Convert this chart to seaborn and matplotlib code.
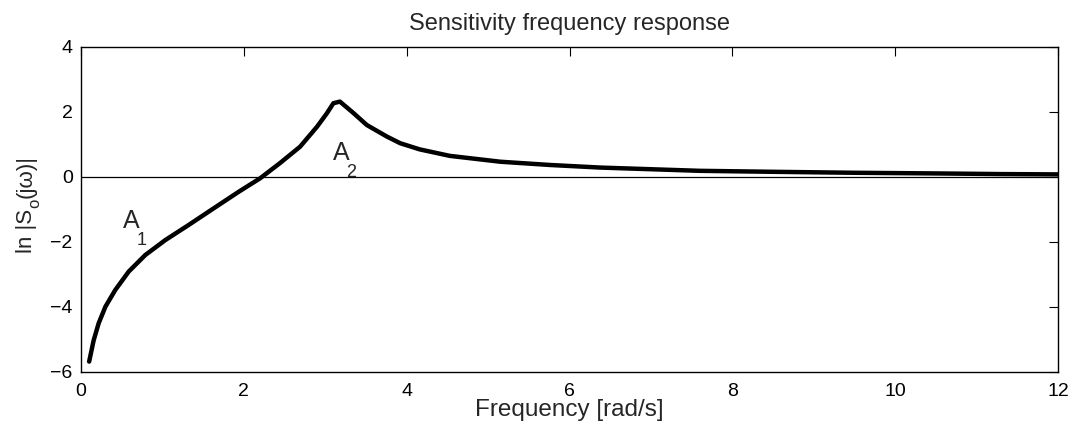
import numpy as np
import pandas as pd
import matplotlib
matplotlib.use("Agg")
import matplotlib.pyplot as plt
import seaborn as sns

# Data
freq = [0.10, 0.156, 0.217, 0.30, 0.42, 0.586, 0.79, 1.036, 1.32, 1.65, 1.94, 2.035, 2.2,
        2.44, 2.69, 2.90, 3.02, 3.10, 3.18, 3.35, 3.51, 3.76, 3.92, 4.16, 4.53, 5.15, 5.76,
        6.38, 6.99, 7.6, 8.5, 9.5, 10.5, 11.3, 12.0]
ln_so = [-5.68, -5.02, -4.50, -3.99, -3.48, -2.91, -2.40, -1.94, -1.48, -0.93, -0.45, -0.30, -0.04,
         0.42, 0.93, 1.55, 1.96, 2.27, 2.32, 1.96, 1.60, 1.24, 1.04, 0.85, 0.65, 0.47, 0.37,
         0.29, 0.24, 0.19, 0.16, 0.13, 0.11, 0.09, 0.08]
xticks = [0, 2, 4, 6, 8, 10, 12]
yticks = [-6, -4, -2, 0, 2, 4]

sns.set_style("white")
plt.rcParams['font.family'] = ['Liberation Sans', 'DejaVu Sans']

W, H = 1072, 430
fig = plt.figure(figsize=(W/100, H/100), dpi=100)
ax = fig.add_axes([81/W, 1-372/H, (1058-81)/W, (372-47)/H])

df = pd.DataFrame({"f": freq, "s": ln_so})
ax.axhline(0, color="black", lw=0.9, zorder=1)
sns.lineplot(data=df, x="f", y="s", ax=ax, color="black", lw=3.2, zorder=3)

ax.set_xlim(0, 12)
ax.set_ylim(-6, 4)
ax.set_xticks(xticks)
ax.set_yticks(yticks)
ax.set_yticklabels([str(t).replace("-", "\u2212") for t in yticks])
ax.tick_params(direction="in", length=6.5, width=0.8, top=True, right=True,
               labelsize=14, colors="black")
ax.tick_params(axis="x", pad=8)
ax.tick_params(axis="y", pad=6)
for s in ax.spines.values():
    s.set_visible(True)
    s.set_color("black")
    s.set_linewidth(1.0)

ax.set_xlabel("Frequency [rad/s]", fontsize=17.5, labelpad=-1)
ax.set_title("Sensitivity frequency response", fontsize=17, pad=12)
ax.set_ylabel("")

# y label with a low subscript: ln |S_o(jw)|
t1 = fig.text(32/W, 1-253/H, "ln |S", rotation=90, rotation_mode="anchor",
              ha="left", va="baseline", fontsize=16)
fig.canvas.draw()
bb1 = t1.get_window_extent()
t2 = fig.text(39.5/W, (bb1.y1 + 0.5)/H, "o", rotation=90, rotation_mode="anchor",
              ha="left", va="baseline", fontsize=12)
fig.canvas.draw()
bb2 = t2.get_window_extent()
fig.text(32/W, (bb2.y1 + 0.5)/H, "(j\u03c9)|", rotation=90, rotation_mode="anchor",
         ha="left", va="baseline", fontsize=16)

# A1 / A2 labels with low subscripts
a1 = ax.text(0.52, -1.57, "A", fontsize=18, va="baseline", ha="left")
ax.annotate("1", xy=(1, 0), xycoords=a1, xytext=(-2.5, 0.5), textcoords="offset points",
            fontsize=13, ha="left", va="top")
a2 = ax.text(3.1, 0.53, "A", fontsize=18, va="baseline", ha="left")
ax.annotate("2", xy=(1, 0), xycoords=a2, xytext=(-2.5, 0.5), textcoords="offset points",
            fontsize=13, ha="left", va="top")

fig.savefig("out.png", dpi=100)
